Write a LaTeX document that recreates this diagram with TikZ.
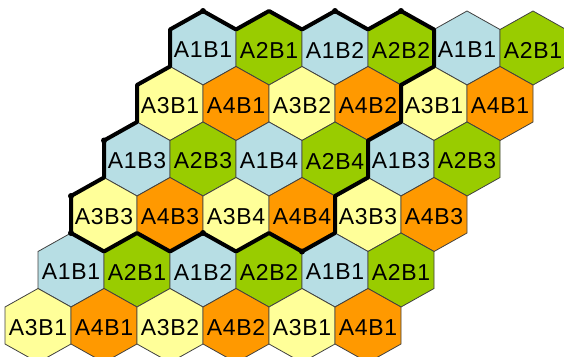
\documentclass[tikz,border=0pt]{standalone}
\usepackage{fontspec}
\newfontfamily\hexfont[LetterSpace=3]{Liberation Sans}
\definecolor{cA1}{HTML}{B7DEE4}
\definecolor{cA2}{HTML}{99CC00}
\definecolor{cA3}{HTML}{FFFF99}
\definecolor{cA4}{HTML}{FF9900}
\begin{document}
\begin{tikzpicture}[x=1pt,y=-1pt,
  hexcell/.style={draw=black!75, line width=0.8pt, line join=miter},
  hexlabel/.style={font=\hexfont\fontsize{23}{24}\selectfont, inner sep=0pt, text=black},
  outline/.style={draw=black, line width=4pt, line join=round},
  joint/.style={fill=black}]
\useasboundingbox (0,0) rectangle (564,356);
\clip (0,0) rectangle (564,356);
\foreach \r/\j/\lab/\k in {
  1/0/A1B1/1, 1/1/A2B1/2, 1/2/A1B2/1, 1/3/A2B2/2, 1/4/A1B1/1, 1/5/A2B1/2,
  2/0/A3B1/3, 2/1/A4B1/4, 2/2/A3B2/3, 2/3/A4B2/4, 2/4/A3B1/3, 2/5/A4B1/4,
  3/0/A1B3/1, 3/1/A2B3/2, 3/2/A1B4/1, 3/3/A2B4/2, 3/4/A1B3/1, 3/5/A2B3/2,
  4/0/A3B3/3, 4/1/A4B3/4, 4/2/A3B4/3, 4/3/A4B4/4, 4/4/A3B3/3, 4/5/A4B3/4,
  5/0/A1B1/1, 5/1/A2B1/2, 5/2/A1B2/1, 5/3/A2B2/2, 5/4/A1B1/1, 5/5/A2B1/2,
  6/0/A3B1/3, 6/1/A4B1/4, 6/2/A3B2/3, 6/3/A4B2/4, 6/4/A3B1/3, 6/5/A4B1/4}{
  \pgfmathsetmacro\cx{38+(6-\r)*33+\j*66}
  \pgfmathsetmacro\cy{48+(\r-1)*55.5}
  \draw[hexcell, fill=cA\k] (\cx,\cy) ++(0,-37) -- ++(33,18.5) -- ++(0,37)
    -- ++(-33,18.5) -- ++(-33,-18.5) -- ++(0,-37) -- cycle;
  \node[hexlabel] (h\r-\j) at (\cx,\cy+2) {\lab};
}
\draw[outline] (203,11) -- (236,29.5) -- (269,11) -- (302,29.5) -- (335,11)
  -- (368,29.5) -- (401,11) -- (434,29.5) -- (434,66.5) -- (401,85)
  -- (401,122) -- (368,140.5) -- (368,177.5) -- (335,196) -- (335,233)
  -- (302,251.5) -- (269,233) -- (236,251.5) -- (203,233) -- (170,251.5)
  -- (137,233) -- (104,251.5) -- (71,233) -- (71,196) -- (104,177.5)
  -- (104,140.5) -- (137,122) -- (137,85) -- (170,66.5) -- (170,29.5) -- cycle;
\foreach \px/\py in {203/11, 335/11, 401/11, 104/140.5, 71/196, 71/233, 203/233, 302/251.5}{
  \fill[joint] (\px,\py) circle (3);
}
\end{tikzpicture}
\end{document}
